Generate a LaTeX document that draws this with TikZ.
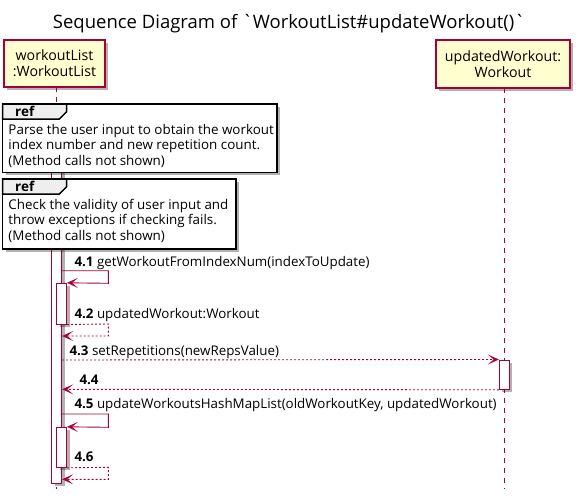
\documentclass[tikz,border=0pt]{standalone}
\usepackage{fontspec}
\newfontfamily\uifont{Open Sans}
\usetikzlibrary{arrows.meta,shadows}
\definecolor{umlred}{HTML}{A80036}
\definecolor{umlfill}{HTML}{FEFECE}
\definecolor{refhead}{HTML}{EEEEEE}
\tikzset{
  shade3/.style={drop shadow={shadow xshift=3pt,shadow yshift=-3pt,fill=black,opacity=0.3}},
  partbox/.style={draw=umlred,line width=1.2pt,fill=umlfill,shade3,inner sep=0,align=center,
    font=\uifont\fontsize{14.2}{15.8}\selectfont},
  actbar/.style={draw=umlred,line width=1pt,fill=white,shade3,minimum width=10pt,inner sep=0},
  lifeline/.style={draw=umlred,line width=0.9pt,dash pattern=on 5pt off 5pt},
  callarrow/.style={draw=umlred,line width=0.9pt,-{Stealth[length=11pt,width=10pt,inset=6pt]}},
  retarrow/.style={callarrow,dash pattern=on 2pt off 2pt},
  msg/.style={anchor=base west,inner sep=0,font=\uifont\fontsize{13.35}{14}\selectfont},
  reftext/.style={anchor=base west,inner sep=0,font=\uifont\fontsize{13.4}{14}\selectfont},
  refframe/.style={draw=black,line width=1.5pt,fill=white,shade3},
}
\begin{document}
\begin{tikzpicture}[x=1pt,y=-1pt]
\useasboundingbox (0,0) rectangle (582,498);
\fill[white] (0,0) rectangle (582,498);

\node[anchor=base,inner sep=0,font=\uifont\fontsize{18.5}{20}\selectfont] (title) at (289,28)
  {Sequence Diagram of `WorkoutList\#updateWorkout()`};

% participants
\node[partbox,minimum width=101pt,minimum height=47pt] (p1) at (54.5,63.5) {workoutList\\:WorkoutList};
\node[partbox,minimum width=134pt,minimum height=48pt] (p2) at (503,64) {updatedWorkout:\\Workout};

% lifelines
\coordinate (l1top) at (56.7,87);
\coordinate (l1bot) at (56.7,489);
\coordinate (l2top) at (504.3,88);
\coordinate (l2bot) at (504.3,489);
\draw[lifeline] (l1top) -- (l1bot);
\draw[lifeline] (l2top) -- (l2bot);

% activation bars
\node[actbar,minimum height=380.3pt] (b0) at (56.7,293.15) {};
\node[actbar,minimum height=40.7pt] (b1) at (61.5,303.65) {};
\node[actbar,minimum height=40pt] (b2) at (61.5,447.3) {};
\node[actbar,minimum height=29.3pt] (b3) at (504.3,374.65) {};

% ref frames
\draw[refframe] (2.7,104) rectangle (277,172.3);
\filldraw[fill=refhead,draw=black,line width=1.5pt] (2.7,104) -- (66.7,104) -- (66.7,111.7) -- (59.3,119) -- (2.7,119) -- cycle;
\node[anchor=base west,inner sep=0,font=\uifont\bfseries\fontsize{13.5}{14}\selectfont] (ref1) at (15,116) {ref};
\node[reftext] (r1a) at (8.3,134.3) {Parse the user input to obtain the workout};
\node[reftext] (r1b) at (8.3,149.8) {index number and new repetition count.};
\node[reftext] (r1c) at (8.3,165.3) {(Method calls not shown)};

\draw[refframe] (2.7,179) rectangle (236,249);
\filldraw[fill=refhead,draw=black,line width=1.5pt] (2.7,179) -- (66.7,179) -- (66.7,186.7) -- (59.3,194) -- (2.7,194) -- cycle;
\node[anchor=base west,inner sep=0,font=\uifont\bfseries\fontsize{13.5}{14}\selectfont] (ref2) at (15,191) {ref};
\node[reftext] (r2a) at (8.3,209.3) {Check the validity of user input and};
\node[reftext] (r2b) at (8.3,224.8) {throw exceptions if checking fails.};
\node[reftext] (r2c) at (8.3,240.3) {(Method calls not shown)};

% messages
\coordinate (m1s) at (b0.east |- 0,270.7);
\coordinate (m1c) at (108.3,270.7);
\coordinate (m1d) at (108.3,283.3);
\draw[callarrow] (m1s) -- (m1c) -- (m1d) -- (b1.north east);
\node[msg] (t1) at (74.3,266) {\textbf{4.1} getWorkoutFromIndexNum(indexToUpdate)};

\coordinate (m2c) at (108.3,324);
\coordinate (m2d) at (108.3,336);
\coordinate (m2e) at (b0.east |- 0,336);
\draw[retarrow] (b1.south east) -- (m2c) -- (m2d) -- (m2e);
\node[msg] (t2) at (74.3,318) {\textbf{4.2} updatedWorkout:Workout};

\coordinate (m3s) at (b0.east |- 0,360);
\draw[retarrow] (m3s) -- (b3.north west);
\node[msg] (t3) at (69.3,355) {\textbf{4.3} setRepetitions(newRepsValue)};

\coordinate (m4e) at (b0.east |- 0,389.3);
\draw[retarrow] (b3.south west) -- (m4e);
\node[msg] (t4) at (79.3,384) {\textbf{4.4}};

\coordinate (m5s) at (b0.east |- 0,414);
\coordinate (m5c) at (108.3,414);
\coordinate (m5d) at (108.3,427.3);
\draw[callarrow] (m5s) -- (m5c) -- (m5d) -- (b2.north east);
\node[msg] (t5) at (74.3,408) {\textbf{4.5} updateWorkoutsHashMapList(oldWorkoutKey, updatedWorkout)};

\coordinate (m6c) at (108.3,467.3);
\coordinate (m6d) at (108.3,479.3);
\coordinate (m6e) at (b0.east |- 0,479.3);
\draw[retarrow] (b2.south east) -- (m6c) -- (m6d) -- (m6e);
\node[msg] (t6) at (74.3,461.7) {\textbf{4.6}};
\end{tikzpicture}
\end{document}
